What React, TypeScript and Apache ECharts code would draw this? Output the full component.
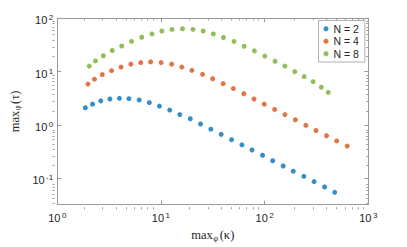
import React, { useEffect, useRef } from "react";
import * as echarts from "echarts";

const seriesNames = ["N = 2", "N = 4", "N = 8"];
const colors = ["#0072BD", "#D95319", "#77AC30"];

const kappaN2 = [1.865, 2.188, 2.63, 3.22, 3.98, 4.91, 6.17, 7.73, 9.68, 12.15, 15.2, 19.2, 24.1, 30.3, 38.1, 48.0, 60.4, 75.6, 95.5, 119.6, 151, 189, 239, 300, 379, 474];
const tauN2 = [2.09, 2.44, 2.81, 3.05, 3.14, 3.09, 2.93, 2.61, 2.24, 1.89, 1.553, 1.296, 1.032, 0.825, 0.66, 0.525, 0.42, 0.336, 0.2675, 0.211, 0.168, 0.1344, 0.1075, 0.0856, 0.0676, 0.0538];

const kappaN4 = [1.978, 2.285, 2.72, 3.34, 4.125, 5.13, 6.39, 7.95, 10.04, 12.69, 15.9, 19.9, 25.2, 31.5, 39.8, 49.9, 63.0, 79.0, 99.1, 125, 156.9, 197.8, 250, 313, 395.7, 495.7, 626];
const tauN4 = [5.82, 7.19, 8.76, 10.37, 12.13, 13.76, 14.72, 15.17, 14.72, 13.76, 12.13, 10.5, 8.87, 7.31, 5.92, 4.79, 3.82, 3.05, 2.44, 1.943, 1.553, 1.242, 0.977, 0.781, 0.622, 0.497, 0.3976];

const kappaN8 = [2.035, 2.336, 2.782, 3.39, 4.19, 5.21, 6.53, 8.2, 10.2, 12.78, 16.14, 20.36, 25.55, 32.0, 40.1, 50.7, 63.5, 79.7, 100.4, 126.1, 156.9, 195.3, 240.9, 293.3, 352.4, 410.8];
const tauN8 = [12.65, 15.82, 19.79, 24.85, 30.17, 36.78, 44.1, 50.9, 57.8, 61.8, 63.7, 61.8, 57.8, 50.9, 43.55, 36.78, 29.8, 24.43, 19.54, 15.62, 12.65, 9.94, 8.05, 6.44, 5.06, 4.05];

const xDecades = [0, 1, 2, 3];
const yDecades = [-1, 0, 1, 2];
const xLogMin = 0;
const xLogMax = 3;
const yLogMin = -1.5;
const yLogMax = 2;

function minorTicks(lo: number, hi: number): number[] {
  const out: number[] = [];
  for (let d = Math.floor(lo) - 1; d <= Math.ceil(hi); d++) {
    for (let k = 2; k <= 9; k++) {
      const v = d + Math.log10(k);
      if (v > lo + 1e-9 && v < hi - 1e-9) out.push(v);
    }
  }
  return out;
}

const AXIS_COLOR = "#9a9a9a";
const TEXT_COLOR = "#262626";

export default function App() {
  const ref = useRef<HTMLDivElement>(null);
  useEffect(() => {
    document.body.style.margin = "0";
    if (!ref.current) return;
    const chart = echarts.init(ref.current, undefined, { renderer: "svg" });
    const toPts = (xs: number[], ys: number[]) => xs.map((x, i) => [Math.log10(x), Math.log10(ys[i])]);
    const kappas = [kappaN2, kappaN4, kappaN8];
    const taus = [tauN2, tauN4, tauN8];
    const gridRect = { left: 52.5, right: 38.7, top: 18.3, bottom: 37.7 };
    const labelRich = {
      b: { fontSize: 11, fontFamily: "Liberation Sans", color: TEXT_COLOR, lineHeight: 13 },
      s: { fontSize: 8, fontFamily: "Liberation Sans", color: TEXT_COLOR, verticalAlign: "top" as const, lineHeight: 9, padding: [0, 0, 0, 1.5] },
    };
    const fmt = (v: number) => `{b|10}{s|${Math.round(v)}}`;
    const xMinor = minorTicks(xLogMin, xLogMax);
    const yMinor = minorTicks(yLogMin, yLogMax);
    const line = (show: boolean) => ({ show, onZero: false, lineStyle: { color: AXIS_COLOR, width: 1 } });
    const baseX = { type: "value" as const, min: xLogMin, max: xLogMax, splitLine: { show: false } };
    const baseY = { type: "value" as const, min: yLogMin, max: yLogMax, splitLine: { show: false } };
    const titleRich = {
      m: { fontSize: 12.5, fontFamily: "Liberation Serif", color: TEXT_COLOR, lineHeight: 14 },
      s: { fontSize: 8.5, fontFamily: "Liberation Serif", color: TEXT_COLOR, verticalAlign: "bottom" as const, lineHeight: 10, padding: [0, 1.5, 0, 0.5] },
    };
    chart.setOption({
      animation: false,
      grid: [{ ...gridRect }, { ...gridRect }],
      xAxis: [
        {
          ...baseX, gridIndex: 0, position: "bottom",
          axisLine: line(true),
          axisTick: { show: true, inside: true, length: 4, customValues: xDecades, lineStyle: { color: AXIS_COLOR } },
          axisLabel: { show: true, customValues: xDecades, formatter: fmt, rich: labelRich, margin: 7 },
          name: "{m|max}{s|φ}{m|(κ)}",
          nameLocation: "middle",
          nameGap: 23,
          nameTextStyle: { rich: titleRich },
        },
        {
          ...baseX, gridIndex: 0, position: "top",
          axisLine: line(true),
          axisTick: { show: true, inside: true, length: 4, customValues: xDecades, lineStyle: { color: AXIS_COLOR } },
          axisLabel: { show: false },
        },
        {
          ...baseX, gridIndex: 1, position: "bottom",
          axisLine: line(false),
          axisTick: { show: true, inside: true, length: 2, customValues: xMinor, lineStyle: { color: AXIS_COLOR } },
          axisLabel: { show: false },
        },
        {
          ...baseX, gridIndex: 1, position: "top",
          axisLine: line(false),
          axisTick: { show: true, inside: true, length: 2, customValues: xMinor, lineStyle: { color: AXIS_COLOR } },
          axisLabel: { show: false },
        },
      ],
      yAxis: [
        {
          ...baseY, gridIndex: 0, position: "left",
          axisLine: line(true),
          axisTick: { show: true, inside: true, length: 4, customValues: yDecades, lineStyle: { color: AXIS_COLOR } },
          axisLabel: { show: true, customValues: yDecades, formatter: fmt, rich: labelRich, margin: 4, padding: [4, 0, 0, 0] },
          name: "{m|max}{s|φ}{m|(τ)}",
          nameLocation: "middle",
          nameGap: 32,
          nameRotate: 90,
          nameTextStyle: { rich: titleRich },
        },
        {
          ...baseY, gridIndex: 0, position: "right",
          axisLine: line(true),
          axisTick: { show: true, inside: true, length: 4, customValues: yDecades, lineStyle: { color: AXIS_COLOR } },
          axisLabel: { show: false },
        },
        {
          ...baseY, gridIndex: 1, position: "left",
          axisLine: line(false),
          axisTick: { show: true, inside: true, length: 2, customValues: yMinor, lineStyle: { color: AXIS_COLOR } },
          axisLabel: { show: false },
        },
        {
          ...baseY, gridIndex: 1, position: "right",
          axisLine: line(false),
          axisTick: { show: true, inside: true, length: 2, customValues: yMinor, lineStyle: { color: AXIS_COLOR } },
          axisLabel: { show: false },
        },
      ],
      legend: {
        data: seriesNames,
        orient: "vertical",
        left: 318.5,
        top: 20.5,
        icon: "circle",
        itemWidth: 5,
        itemHeight: 5,
        itemGap: 0,
        padding: [2, 6, 2, 5],
        backgroundColor: "#ffffff",
        borderColor: "#b0b0b0",
        borderWidth: 1,
        borderRadius: 0,
        textStyle: { fontSize: 10.5, fontFamily: "Liberation Sans", color: TEXT_COLOR, lineHeight: 12.5, height: 12.5 },
      },
      series: seriesNames.map((name, i) => ({
        name,
        type: "scatter",
        xAxisIndex: 0,
        yAxisIndex: 0,
        symbol: "circle",
        symbolSize: 5,
        itemStyle: { color: colors[i] },
        data: toPts(kappas[i], taus[i]),
      })),
    });
    return () => chart.dispose();
  }, []);
  return <div ref={ref} style={{ width: 407, height: 247 }} />;
}
